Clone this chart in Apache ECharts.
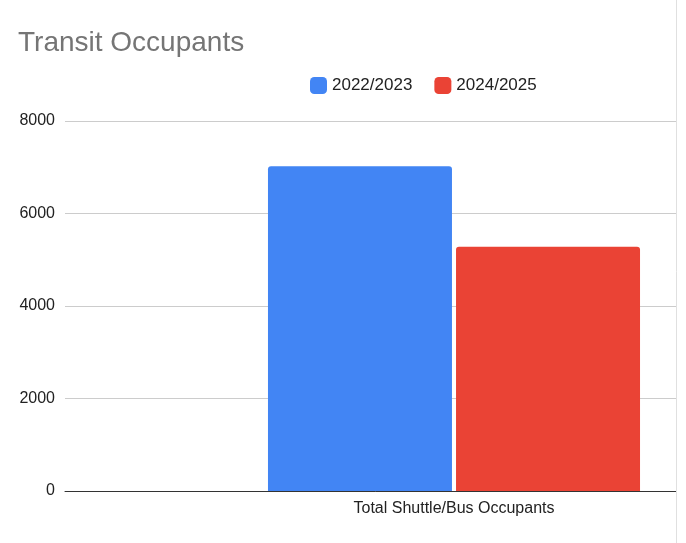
<!DOCTYPE html><html><head><meta charset="utf-8">
<script src="https://cdn.jsdelivr.net/npm/echarts@6/dist/echarts.min.js"></script>
<style>html,body{margin:0;padding:0;background:#fff}#c{width:686px;height:543px}</style></head>
<body><div id="c"></div><script>
const categories=["Total Shuttle/Bus Occupants"];
const seriesNames=["2022/2023","2024/2025"];
const values2022=[7020];
const values2024=[5280];
const yTicks=[0,2000,4000,6000,8000];
const ch=echarts.init(document.getElementById('c'));
const font='"Liberation Sans", Arial, sans-serif';
ch.setOption({
 animation:false,
 textStyle:{fontFamily:font},
 title:{text:'Transit Occupants',left:13,top:24,textStyle:{fontSize:28,fontWeight:'normal',color:'#757575',fontFamily:font}},
 legend:{data:seriesNames,left:305,top:72,itemWidth:17,itemHeight:17,itemGap:22,icon:'roundRect',textStyle:{fontSize:17,color:'#222',fontFamily:font}},
 grid:{left:65,top:121,bottom:52,width:778,containLabel:false,outerBoundsMode:'none'},
 xAxis:{type:'category',data:categories,axisTick:{show:false},axisLine:{lineStyle:{color:'#333'}},axisLabel:{fontSize:16,color:'#222',margin:10}},
 yAxis:{type:'value',min:0,max:yTicks[yTicks.length-1],interval:2000,axisLabel:{fontSize:16,color:'#222',margin:10,formatter:v=>String(v)},splitLine:{lineStyle:{color:'#ccc'}}},
 series:[
  {name:seriesNames[0],type:'bar',data:values2022,barWidth:184,barGap:'2.2%',itemStyle:{color:'#4285F4',borderRadius:[3,3,0,0]}},
  {name:seriesNames[1],type:'bar',data:values2024,barWidth:184,itemStyle:{color:'#EA4335',borderRadius:[3,3,0,0]}}
 ],
 graphic:[{type:'rect',shape:{x:676,y:0,width:10,height:543},style:{fill:'#fff'},z:100},
  {type:'line',shape:{x1:676.5,y1:0,x2:676.5,y2:543},style:{stroke:'#e0e0e0',lineWidth:1},z:101}]
});
</script></body></html>
